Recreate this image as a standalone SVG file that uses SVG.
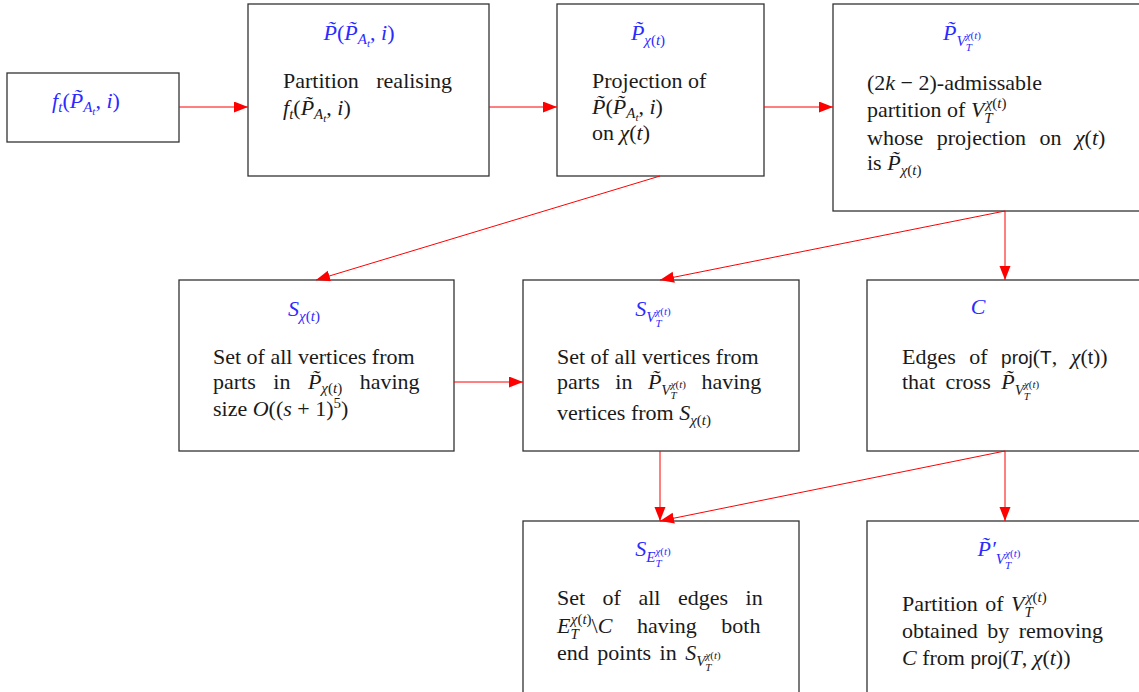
<svg xmlns="http://www.w3.org/2000/svg" width="1139" height="692" viewBox="0 0 1139 692">
<defs>
<marker id="ah" markerUnits="userSpaceOnUse" markerWidth="15" markerHeight="12" refX="14" refY="5.5" orient="auto"><path d="M0,0 L14,5.5 L0,11 z" fill="#ff0000"/></marker>
</defs>
<style>
.box{fill:#fff;stroke:#333;stroke-width:1.3}
text{font-family:"Liberation Serif","DejaVu Serif",serif;font-size:22px;fill:#1a1a1a}
.ti{fill:#2b2bff}
.i{font-style:italic}
.s{font-size:15px}
.ss{font-size:11px}
.sf{font-family:"Liberation Sans","DejaVu Sans",sans-serif;font-size:19px}
.con{stroke:#ff0000;stroke-width:1;fill:none;marker-end:url(#ah)}
</style>
<rect width="1139" height="692" fill="#fff"/>

<g id="n-ft">
<rect class="box" x="7" y="73" width="172" height="69"/>
<text class="ti" x="86" y="108" text-anchor="middle"><tspan class="i">f</tspan><tspan class="i s" dy="4">t</tspan><tspan dy="-4">(</tspan><tspan class="i">P̃</tspan><tspan class="i s" dy="4">A</tspan><tspan class="i ss" dy="3">t</tspan><tspan dy="-7">, </tspan><tspan class="i">i</tspan>)</text>
</g>

<g id="n-partition">
<rect class="box" x="248" y="4" width="241" height="172"/>
<text class="ti" x="359" y="40" text-anchor="middle"><tspan class="i">P̃</tspan>(<tspan class="i">P̃</tspan><tspan class="i s" dy="4">A</tspan><tspan class="i ss" dy="3">t</tspan><tspan dy="-7">, </tspan><tspan class="i">i</tspan>)</text>
<text x="283" y="88" word-spacing="12">Partition realising</text>
<text x="283" y="115"><tspan class="i">f</tspan><tspan class="i s" dy="4">t</tspan><tspan dy="-4">(</tspan><tspan class="i">P̃</tspan><tspan class="i s" dy="4">A</tspan><tspan class="i ss" dy="3">t</tspan><tspan dy="-7">, </tspan><tspan class="i">i</tspan>)</text>
</g>

<g id="n-projection">
<rect class="box" x="557" y="4" width="207" height="172"/>
<text class="ti" x="648" y="40" text-anchor="middle"><tspan class="i">P̃</tspan><tspan class="s" dy="5"><tspan class="i">χ</tspan>(<tspan class="i">t</tspan>)</tspan></text>
<text x="592" y="88">Projection of</text>
<text x="592" y="114"><tspan class="i">P̃</tspan>(<tspan class="i">P̃</tspan><tspan class="i s" dy="4">A</tspan><tspan class="i ss" dy="3">t</tspan><tspan dy="-7">, </tspan><tspan class="i">i</tspan>)</text>
<text x="592" y="140">on <tspan class="i">χ</tspan>(<tspan class="i">t</tspan>)</text>
</g>

<g id="n-admissable">
<rect class="box" x="833" y="4" width="320" height="207"/>
<text class="ti" x="962" y="40" text-anchor="middle"><tspan class="i">P̃</tspan><tspan class="i s" dy="6">V</tspan><tspan class="i ss" dy="5">T</tspan><tspan class="ss" dx="-6" dy="-12"><tspan class="i">χ</tspan>(<tspan class="i">t</tspan>)</tspan></text>
<text x="867" y="90">(2<tspan class="i">k</tspan> − 2)-admissable</text>
<text x="867" y="117">partition of <tspan class="i">V</tspan><tspan class="i s" dy="6">T</tspan><tspan class="s" dx="-7" dy="-15"><tspan class="i">χ</tspan>(<tspan class="i">t</tspan>)</tspan></text>
<text x="867" y="145" word-spacing="8">whose projection on <tspan class="i">χ</tspan>(<tspan class="i">t</tspan>)</text>
<text x="867" y="170">is <tspan class="i">P̃</tspan><tspan class="s" dy="5"><tspan class="i">χ</tspan>(<tspan class="i">t</tspan>)</tspan></text>
</g>

<g id="n-s-chi">
<rect class="box" x="179" y="280" width="275" height="171"/>
<text class="ti" x="304" y="316" text-anchor="middle"><tspan class="i">S</tspan><tspan class="s" dy="5"><tspan class="i">χ</tspan>(<tspan class="i">t</tspan>)</tspan></text>
<text x="213" y="364">Set of all vertices from</text>
<text x="213" y="389" word-spacing="12">parts in <tspan class="i">P̃</tspan><tspan class="s" dy="4"><tspan class="i">χ</tspan>(<tspan class="i">t</tspan>)</tspan><tspan dy="-4"> having</tspan></text>
<text x="213" y="416">size <tspan class="i">O</tspan>((<tspan class="i">s</tspan> + 1)<tspan class="s" dy="-8">5</tspan><tspan dy="8">)</tspan></text>
</g>

<g id="n-s-v">
<rect class="box" x="523" y="280" width="276" height="171"/>
<text class="ti" x="653" y="316" text-anchor="middle"><tspan class="i">S</tspan><tspan class="i s" dy="6">V</tspan><tspan class="i ss" dy="5">T</tspan><tspan class="ss" dx="-6" dy="-12"><tspan class="i">χ</tspan>(<tspan class="i">t</tspan>)</tspan></text>
<text x="557" y="364">Set of all vertices from</text>
<text x="557" y="389" word-spacing="10">parts in <tspan class="i">P̃</tspan><tspan class="i s" dy="6">V</tspan><tspan class="i ss" dy="4">T</tspan><tspan class="ss" dx="-6" dy="-11"><tspan class="i">χ</tspan>(<tspan class="i">t</tspan>)</tspan><tspan dy="1"> having</tspan></text>
<text x="557" y="420">vertices from <tspan class="i">S</tspan><tspan class="s" dy="5"><tspan class="i">χ</tspan>(<tspan class="i">t</tspan>)</tspan></text>
</g>

<g id="n-c">
<rect class="box" x="867" y="280" width="290" height="171"/>
<text class="ti i" x="978" y="314" text-anchor="middle">C</text>
<text x="902" y="364" word-spacing="8">Edges of <tspan class="sf">proj</tspan>(<tspan class="sf">T</tspan>, <tspan class="i">χ</tspan>(<tspan class="sf">t</tspan>))</text>
<text x="902" y="389" word-spacing="5">that cross <tspan class="i">P̃</tspan><tspan class="i s" dy="6">V</tspan><tspan class="i ss" dy="5">T</tspan><tspan class="ss" dx="-6" dy="-12"><tspan class="i">χ</tspan>(<tspan class="i">t</tspan>)</tspan></text>
</g>

<g id="n-s-e">
<rect class="box" x="523" y="521" width="276" height="190"/>
<text class="ti" x="653" y="556" text-anchor="middle"><tspan class="i">S</tspan><tspan class="i s" dy="6">E</tspan><tspan class="i ss" dy="5">T</tspan><tspan class="ss" dx="-6" dy="-12"><tspan class="i">χ</tspan>(<tspan class="i">t</tspan>)</tspan></text>
<text x="557" y="605" word-spacing="12">Set of all edges in</text>
<text x="557" y="633" word-spacing="19"><tspan class="i">E</tspan><tspan class="i s" dy="6">T</tspan><tspan class="s" dx="-8" dy="-15"><tspan class="i">χ</tspan>(<tspan class="i">t</tspan>)</tspan><tspan dy="9">\</tspan><tspan class="i">C</tspan> having both</text>
<text x="557" y="660" word-spacing="3">end points in <tspan class="i">S</tspan><tspan class="i s" dy="6">V</tspan><tspan class="i ss" dy="5">T</tspan><tspan class="ss" dx="-6" dy="-12"><tspan class="i">χ</tspan>(<tspan class="i">t</tspan>)</tspan></text>
</g>

<g id="n-p-prime">
<rect class="box" x="867" y="521" width="290" height="190"/>
<text class="ti" x="999" y="556" text-anchor="middle"><tspan class="i">P̃′</tspan><tspan class="i s" dy="8">V</tspan><tspan class="i ss" dy="5">T</tspan><tspan class="ss" dx="-6" dy="-12"><tspan class="i">χ</tspan>(<tspan class="i">t</tspan>)</tspan></text>
<text x="902" y="611" word-spacing="2">Partition of <tspan class="i">V</tspan><tspan class="i s" dy="6">T</tspan><tspan class="s" dx="-7" dy="-15"><tspan class="i">χ</tspan>(<tspan class="i">t</tspan>)</tspan></text>
<text x="902" y="638" word-spacing="4">obtained by removing</text>
<text x="902" y="665"><tspan class="i">C</tspan> from <tspan class="sf">proj</tspan>(<tspan class="i">T</tspan>, <tspan class="i">χ</tspan>(<tspan class="i">t</tspan>))</text>
</g>

<g id="connectors">
<line class="con" x1="179" y1="107" x2="248" y2="107"/>
<line class="con" x1="489" y1="107" x2="557" y2="107"/>
<line class="con" x1="764" y1="107" x2="833" y2="107"/>
<line class="con" x1="660" y1="176" x2="316" y2="280"/>
<line class="con" x1="1005" y1="211" x2="660" y2="280"/>
<line class="con" x1="1005" y1="211" x2="1005" y2="280"/>
<line class="con" x1="454" y1="382" x2="523" y2="382"/>
<line class="con" x1="660" y1="451" x2="660" y2="521"/>
<line class="con" x1="1005" y1="451" x2="660" y2="521"/>
<line class="con" x1="1005" y1="451" x2="1005" y2="521"/>
</g>
</svg>
